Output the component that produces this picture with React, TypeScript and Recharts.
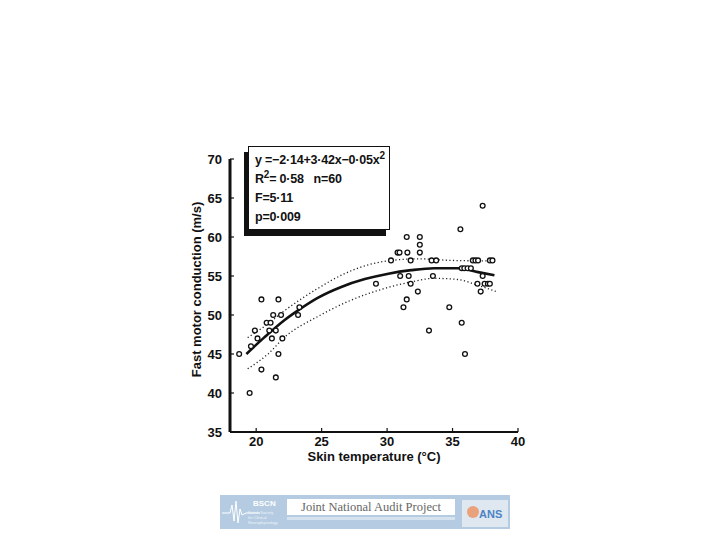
import React from "react";
import { ComposedChart, Scatter, Line, XAxis, YAxis } from "recharts";

// skin temperature (°C) / fast motor conduction (m/s) for each subject
const skinTemp = [
  18.7, 19.5, 19.6, 19.9, 20.1, 20.4, 20.4, 20.8, 21.1, 21.0,
  21.2, 21.3, 21.5, 21.5, 21.7, 21.7, 21.9, 22.0, 23.2, 23.3,
  37.3, 35.6, 31.5, 32.5, 32.5, 30.8, 30.95, 31.55, 32.5, 30.3,
  31.8, 33.4, 33.75, 36.55, 36.75, 36.95, 37.85, 38.05, 35.7, 35.9,
  36.15, 36.4, 31.0, 31.65, 33.5, 37.3, 31.8, 36.9, 37.45, 37.7,
  37.85, 32.35, 37.15, 31.5, 31.25, 34.75, 35.7, 33.2, 35.95, 29.15,
];
const conduction = [
  45, 40, 46, 48, 47, 52, 43, 49, 49, 48,
  47, 50, 48, 42, 52, 45, 50, 47, 50, 51,
  64, 61, 60, 60, 59, 58, 58, 58, 58, 57,
  57, 57, 57, 57, 57, 57, 57, 57, 56, 56,
  56, 56, 55, 55, 55, 55, 54, 54, 54, 54,
  54, 53, 53, 52, 51, 51, 49, 48, 45, 54,
];

// regression curve and its confidence band
const fitX = [19.25, 20.6, 22.2, 23.2, 24.7, 26.5, 28.3, 30.1, 31.85, 33.6, 35.4, 36.95, 38.2];
const fitY = [45.0, 47.1, 49.4, 50.6, 52.2, 53.6, 54.6, 55.3, 55.75, 56.0, 56.0, 55.5, 55.1];
const upperX = [19.35, 20.6, 22.2, 24.7, 26.75, 28.5, 30.1, 32.4, 34.9, 36.95, 38.3];
const upperY = [47.1, 48.5, 50.6, 53.4, 55.3, 56.4, 56.95, 57.2, 57.0, 56.95, 56.95];
const lowerX = [19.35, 20.9, 22.2, 24.7, 27.25, 29.8, 31.85, 33.6, 35.4, 36.95, 38.35];
const lowerY = [43.1, 45.0, 47.2, 49.8, 51.9, 53.4, 54.25, 54.7, 54.55, 53.8, 53.0];

const xTicks = [20, 25, 30, 35, 40];
const yTicks = [35, 40, 45, 50, 55, 60, 65, 70];

const points = skinTemp.map((x, i) => ({ x, y: conduction[i] }));
const fit = fitX.map((x, i) => ({ x, y: fitY[i] }));
const upper = upperX.map((x, i) => ({ x, y: upperY[i] }));
const lower = lowerX.map((x, i) => ({ x, y: lowerY[i] }));

const PLOT_LEFT = 230;
const PLOT_TOP = 159;
const PLOT_RIGHT = 518;
const PLOT_BOTTOM = 432;
const YAXIS_W = 50;
const XAXIS_H = 32;
const FONT = "'Liberation Sans', Arial, sans-serif";

const OpenDot = (props: any) => (
  <circle cx={props.cx} cy={props.cy} r={2.4} fill="#fff" stroke="#111" strokeWidth={1.3} />
);

const YTick = (props: any) => (
  <g>
    <line x1={PLOT_LEFT} x2={PLOT_LEFT + 4} y1={props.y} y2={props.y} stroke="#111" strokeWidth={1.2} />
    <text x={props.x} y={props.y} dy={5} textAnchor="end" fontSize={13} fontWeight={700} fontFamily={FONT} fill="#111">
      {props.payload.value}
    </text>
  </g>
);

const XTick = (props: any) => (
  <g>
    <line x1={props.x} x2={props.x} y1={PLOT_BOTTOM} y2={PLOT_BOTTOM - 4} stroke="#111" strokeWidth={1.2} />
    <text x={props.x} y={PLOT_BOTTOM + 14} textAnchor="middle" fontSize={13} fontWeight={700} fontFamily={FONT} fill="#111">
      {props.payload.value}
    </text>
  </g>
);

export default function App() {
  return (
    <div style={{ position: "absolute", left: 0, top: 0, width: 720, height: 540, background: "#fff" }}>
      <ComposedChart
        width={720}
        height={540}
        margin={{
          top: PLOT_TOP,
          left: PLOT_LEFT - YAXIS_W,
          right: 720 - PLOT_RIGHT,
          bottom: 540 - PLOT_BOTTOM - XAXIS_H,
        }}
      >
        <XAxis
          type="number"
          dataKey="x"
          domain={[18, 40]}
          ticks={xTicks}
          height={XAXIS_H}
          tickLine={false}
          tick={<XTick />}
          axisLine={{ stroke: "#111", strokeWidth: 2 }}
          allowDataOverflow
          label={{
            value: "Skin temperature (°C)",
            position: "insideBottom",
            offset: 3,
            style: { fontSize: 13, fontWeight: 700, fontFamily: FONT, fill: "#111" },
          }}
        />
        <YAxis
          type="number"
          dataKey="y"
          domain={[35, 70]}
          ticks={yTicks}
          width={YAXIS_W}
          tickLine={false}
          tick={<YTick />}
          axisLine={{ stroke: "#111", strokeWidth: 3 }}
          allowDataOverflow
          label={{
            value: "Fast motor conduction (m/s)",
            angle: -90,
            position: "insideLeft",
            offset: 16,
            dy: -6,
            style: { textAnchor: "middle", fontSize: 13, fontWeight: 700, fontFamily: FONT, fill: "#111" },
          }}
        />
        <Line data={upper} dataKey="y" type="monotone" stroke="#222" strokeWidth={1.3} strokeDasharray="1.2 2.4" dot={false} isAnimationActive={false} />
        <Line data={lower} dataKey="y" type="monotone" stroke="#222" strokeWidth={1.3} strokeDasharray="1.2 2.4" dot={false} isAnimationActive={false} />
        <Line data={fit} dataKey="y" type="monotone" stroke="#111" strokeWidth={2.6} dot={false} isAnimationActive={false} />
        <Scatter data={points} dataKey="y" shape={<OpenDot />} isAnimationActive={false} />
      </ComposedChart>

      {/* regression statistics box */}
      <div
        style={{
          position: "absolute",
          left: 248,
          top: 146,
          width: 142,
          height: 84,
          boxSizing: "border-box",
          border: "1.5px solid #111",
          boxShadow: "-4px 6px 0 #111",
          background: "#fff",
          padding: "4px 0 0 6px",
          fontFamily: FONT,
          fontWeight: 700,
          fontSize: 12.5,
          letterSpacing: -0.2,
          lineHeight: "19px",
          color: "#111",
          whiteSpace: "nowrap",
        }}
      >
        <div>y =−2·14+3·42x−0·05x<sup style={{ fontSize: 10, lineHeight: 0 }}>2</sup></div>
        <div>R<sup style={{ fontSize: 10, lineHeight: 0 }}>2</sup>= 0·58&nbsp;&nbsp; n=60</div>
        <div>F=5·11</div>
        <div>p=0·009</div>
      </div>

      {/* footer banner */}
      <div style={{ position: "absolute", left: 220, top: 495, width: 290, height: 34, background: "#b4cbe1" }}>
        <svg width={60} height={34} style={{ position: "absolute", left: 0, top: 0 }}>
          <polyline
            points="2,18 10,18 12,10 14,26 16,6 18,28 20,14 22,20 26,18 40,18"
            fill="none"
            stroke="#fff"
            strokeWidth={1}
          />
        </svg>
        <div style={{ position: "absolute", left: 33, top: 4, color: "#fff", fontFamily: FONT, fontWeight: 700, fontSize: 8 }}>BSCN</div>
        <div style={{ position: "absolute", left: 28, top: 15, color: "#eef4fa", fontFamily: FONT, fontSize: 4, lineHeight: "5px" }}>
          British Society
          <br />
          for Clinical
          <br />
          Neurophysiology
        </div>
        <div
          style={{
            position: "absolute",
            left: 67,
            top: 4,
            width: 168,
            height: 16,
            background: "#fff",
            color: "#666",
            fontFamily: "'Liberation Serif', serif",
            fontSize: 12.5,
            lineHeight: "16px",
            textAlign: "center",
          }}
        >
          Joint National Audit Project
        </div>
        <div style={{ position: "absolute", left: 67, top: 22, width: 168, height: 3, background: "#d6e3ef" }} />
        <div style={{ position: "absolute", left: 242, top: 5, width: 46, height: 27, background: "#dfe8f1" }}>
          <div style={{ position: "absolute", left: 5, top: 6, width: 12, height: 12, borderRadius: 6, background: "#e9a27c" }} />
          <div style={{ position: "absolute", left: 17, top: 8, color: "#4d83c4", fontFamily: FONT, fontWeight: 700, fontSize: 11 }}>ANS</div>
        </div>
      </div>
    </div>
  );
}
